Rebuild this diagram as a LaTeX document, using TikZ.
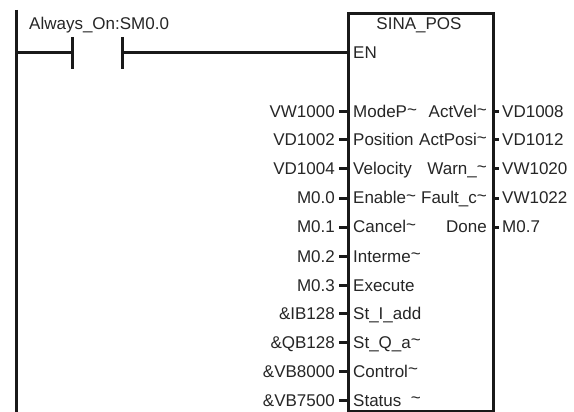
\documentclass[tikz,border=0pt]{standalone}
\usepackage{fontspec}
\setmainfont{Liberation Sans}
\newcommand{\tld}{\raisebox{2.5pt}{\textasciitilde}}
\tikzset{
  lbl/.style={inner xsep=0pt,inner ysep=0pt,text=black!85,font=\fontsize{17}{20}\selectfont,text height=15pt,text depth=3pt},
  inl/.style={lbl,anchor=west},
  inr/.style={lbl,anchor=east},
  outl/.style={lbl,anchor=east,inner xsep=4pt},
  outr/.style={lbl,anchor=west,inner xsep=3pt},
  wire/.style={line width=3pt,black!90},
  stub/.style={line width=3pt,black!90},
  block/.style={draw=black!90,line width=3pt,fill=white,inner sep=0pt,minimum width=145pt,minimum height=397.5pt,anchor=north west},
}
\begin{document}
\begin{tikzpicture}[x=1pt,y=-1pt]
\useasboundingbox (0,0) rectangle (574,412);
\fill[white] (0,0) rectangle (574,412);
\coordinate (railtop) at (16,10);
\coordinate (railbot) at (16,412);
\draw[wire] (railtop) -- (railbot);
\coordinate (railrung) at (16,53);
\coordinate (c1) at (72,53);
\coordinate (c2) at (122,53);
\draw[wire] (72,37) -- (72,69);
\draw[wire] (122,37) -- (122,69);
\node[block] (box) at (347,12.5) {};
\draw[wire] (railrung) -- (c1);
\draw[wire] (c2) -- (box.west |- c2);
\node[lbl,anchor=west] (always) at (29,24) {Always\_On:SM0.0};
\node[lbl] (title) at (419,24) {SINA\_POS};
\node[inl] (en) at (353,53) {EN};
\foreach \nm/\y/\ot/\it in {a/112/VW1000/ModeP\tld, b/140/VD1002/Position, c/169/VD1004/Velocity, d/198/M0.0/Enable\tld, e/227/M0.1/Cancel\tld, f/256/M0.2/Interme\tld, g/285/M0.3/Execute, h/313/\&IB128/St\_I\_add, i/342/\&QB128/St\_Q\_a\tld, j/371/\&VB8000/Control\tld, k/400/\&VB7500/Status\ \ \tld}{
  \node[inl] (in\nm) at (353,\y) {\it};
  \node[outl] (out\nm) at (339,\y) {\ot};
  \draw[stub] (out\nm.east) -- (box.west |- out\nm.east);
}
\foreach \nm/\y/\it/\ot in {a/112/ActVel\tld/VD1008, b/140/ActPosi\tld/VD1012, c/169/Warn\_\tld/VW1020, d/198/Fault\_c\tld/VW1022, e/227/Done/M0.7}{
  \node[inr] (rin\nm) at (487,\y) {\it};
  \node[outr] (rout\nm) at (499,\y) {\ot};
  \draw[stub] (box.east |- rout\nm.west) -- (rout\nm.west);
}
\end{tikzpicture}
\end{document}
